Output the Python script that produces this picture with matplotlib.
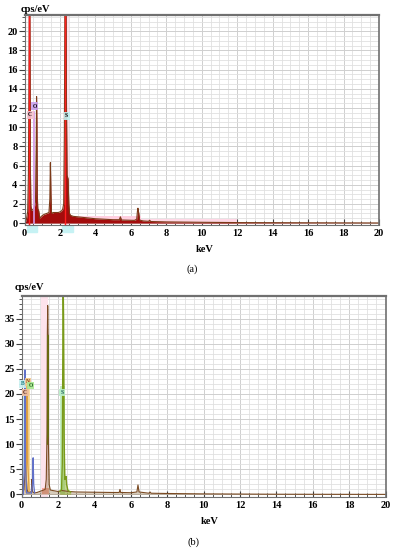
import numpy as np
import matplotlib.pyplot as plt
from matplotlib.ticker import MultipleLocator
from matplotlib.patches import Rectangle

plt.rcParams["font.family"] = ["Liberation Serif", "DejaVu Serif"]
plt.rcParams["font.weight"] = "bold"

# --- panel (a): single spectrum (keV, cps/eV)
a_energy = [0.00, 0.10, 0.18, 0.22, 0.25, 0.27, 0.29, 0.31, 0.33, 0.36, 0.40,
            0.46, 0.55, 0.62, 0.66, 0.68, 0.70, 0.72, 0.75, 0.80, 0.86, 0.95,
            1.10, 1.25, 1.38, 1.43, 1.46, 1.49, 1.52, 1.56, 1.62, 1.75, 1.90,
            2.05, 2.15, 2.21, 2.25, 2.28, 2.31, 2.34, 2.37, 2.40, 2.43, 2.46,
            2.50, 2.54, 2.60, 2.75, 3.0, 3.5, 4.0, 4.5, 5.0, 5.35, 5.41, 5.47,
            5.8, 6.2, 6.33, 6.37, 6.40, 6.44, 6.50, 6.7, 7.0, 7.06, 7.12, 7.6,
            8.0, 9.0, 10.0, 12.0, 14.0, 16.0, 18.0, 20.0]
a_cps = [0.0, 0.3, 1.2, 5.0, 14.0, 22.0, 25.0, 18.0, 6.0, 1.8, 1.3,
         1.4, 1.6, 2.2, 8.0, 13.2, 10.5, 3.0, 1.5, 1.3, 0.5, 0.7,
         0.9, 1.0, 1.1, 2.5, 6.3, 3.0, 1.2, 1.0, 1.1, 1.1, 1.1,
         1.2, 1.4, 2.0, 9.5, 24.0, 25.0, 24.0, 12.0, 5.0, 4.8, 4.6,
         2.0, 1.0, 0.8, 0.7, 0.65, 0.55, 0.45, 0.4, 0.35, 0.35, 0.65, 0.32,
         0.3, 0.28, 0.4, 1.2, 1.55, 1.1, 0.3, 0.22, 0.18, 0.3, 0.16, 0.14,
         0.12, 0.1, 0.08, 0.05, 0.04, 0.03, 0.02, 0.01]
a_marker_keV = [0.28, 2.31]
a_labels = ["C", "O", "S"]
a_label_keV = [0.32, 0.58, 2.38]
a_label_cps = [11.3, 12.2, 11.2]

# --- panel (b): overlaid traces
b_base_energy = [0.00, 0.08, 0.14, 0.20, 0.23, 0.25, 0.27, 0.30, 0.36, 0.45,
                 0.54, 0.57, 0.59, 0.62, 0.70, 0.85, 1.00, 1.15, 1.30, 1.36,
                 1.40, 1.42, 1.44, 1.46, 1.48, 1.52, 1.58, 1.70, 2.00, 2.15,
                 2.20, 2.60, 3.0, 4.0, 5.0, 5.37, 5.41, 5.45, 6.0, 6.34, 6.40,
                 6.46, 7.0, 7.06, 7.12, 8.0, 10.0, 14.0, 20.0]
b_base_cps = [0.0, 0.3, 1.0, 5.0, 20.5, 8.0, 3.0, 1.0, 0.5, 0.4,
              0.6, 3.0, 1.0, 0.5, 0.3, 0.4, 0.6, 0.8, 1.0, 3.0,
              12.0, 32.0, 37.6, 31.7, 10.0, 2.0, 0.9, 0.8, 0.6, 0.7,
              0.8, 0.6, 0.5, 0.45, 0.4, 0.4, 1.0, 0.4, 0.35, 0.5, 1.9,
              0.5, 0.25, 0.5, 0.25, 0.2, 0.12, 0.05, 0.02]
b_blue_energy = [0.10, 0.16, 0.19, 0.22, 0.28, 0.55, 0.61, 0.64, 0.67, 0.72]
b_blue_cps = [0.0, 6.0, 24.8, 6.0, 0.3, 0.3, 2.5, 7.3, 2.0, 0.3]
b_tan_energy = [0.24, 0.29, 0.32, 0.35, 0.42]
b_tan_cps = [0.5, 8.0, 22.0, 6.0, 0.5]
b_green_energy = [2.10, 2.20, 2.24, 2.27, 2.29, 2.31, 2.34, 2.38, 2.42, 2.45,
                  2.48, 2.55, 2.70]
b_green_cps = [0.6, 1.0, 6.0, 28.0, 42.0, 35.6, 12.0, 3.0, 3.3, 3.6,
               2.0, 0.8, 0.5]
b_labels = ["B", "N", "O", "C", "S"]
b_label_keV = [0.05, 0.36, 0.50, 0.20, 2.25]
b_label_cps = [22.0, 22.4, 21.7, 20.3, 20.3]

W, H = 395, 550
fig = plt.figure(figsize=(W / 100, H / 100), dpi=100)


def px_axes(x0, y0, x1, y1):
    return fig.add_axes([x0 / W, 1 - y1 / H, (x1 - x0) / W, (y1 - y0) / H])


def style(ax, ymax, ymin, ymajor, yminor):
    ax.set_xlim(0, 20)
    ax.set_ylim(ymin, ymax)
    ax.xaxis.set_major_locator(MultipleLocator(2))
    ax.xaxis.set_minor_locator(MultipleLocator(0.5))
    ax.yaxis.set_major_locator(MultipleLocator(ymajor))
    ax.yaxis.set_minor_locator(MultipleLocator(yminor))
    ax.grid(which="minor", color="#e0e0e0", lw=0.6)
    ax.grid(which="major", color="#cfcfcf", lw=0.7)
    ax.set_axisbelow(True)
    ax.tick_params(axis="x", which="both", direction="in", length=3,
                   labelsize=7.5, pad=3, color="#404040")
    ax.tick_params(axis="x", which="major", length=4)
    ax.tick_params(axis="y", which="major", direction="out", length=4,
                   labelsize=7.5, pad=1, color="#404040")
    ax.tick_params(axis="y", which="minor", direction="out", length=2,
                   color="#404040")
    for s in ax.spines.values():
        s.set_color("#707070")
    ax.spines["top"].set_linewidth(1.6)
    ax.spines["right"].set_linewidth(1.2)


def label_box(ax, x, y, text, fc, tc="black"):
    ax.text(x, y, text, fontsize=4, color=tc, ha="center", va="center",
            bbox=dict(boxstyle="square,pad=0.25", fc=fc, ec="none", alpha=0.9))


# panel (a)
ax = px_axes(24.5, 15, 379, 224.5)
style(ax, 21.7, -0.15, 2, 0.5)
ax.axvspan(0.20, 0.38, color="#ffd6e4", alpha=0.7, lw=0)
ax.axvspan(2.22, 2.52, color="#ffd6e4", alpha=0.7, lw=0)
ax.fill_between([2.5, 6.6], 0, 0.75, color="#ffd0e0", lw=0)
ax.fill_between([6.6, 12.0], 0, 0.4, color="#ffd8e6", lw=0)
ax.fill_between(a_energy, a_cps, color="#a30c0c", lw=0)
ax.plot(a_energy, a_cps, color="#7b3a18", lw=0.8)
for e in a_marker_keV:
    ax.axvline(e, color="#ff1f1f", lw=1.0)
ax.plot([0.52, 0.52], [0, 11.6], color="#d59ae8", lw=1.2)
for t, x, y, fc in zip(a_labels, a_label_keV, a_label_cps,
                       ["#f6c2cf", "#c9a2ee", "#bff0ee"]):
    label_box(ax, x, y, t, fc)
for x in [0.42, 2.42]:
    ax.add_patch(Rectangle((x - 0.3, -0.9), 0.6, 0.6, color="#c6f2f4",
                           clip_on=False, zorder=0))
fig.text(21 / W, 1 - 10 / H, "cps/eV", fontsize=7.5, ha="left", va="center")
fig.text(205 / W, 1 - 250 / H, "keV", fontsize=7.5, ha="center", va="center")
fig.text(192 / W, 1 - 269 / H, "(a)", fontsize=7.5, ha="center", va="center",
         fontweight="normal")

# panel (b)
bx = px_axes(21.5, 296, 385.5, 496.5)
style(bx, 39.5, -0.4, 5, 1)
bx.fill_between([0.0, 0.12], 0, 21, color="#c8f0f0", lw=0)
bx.fill_between([0.26, 0.48], 0, 23.2, color="#f6d78e", lw=0, alpha=0.85)
bx.axvspan(1.08, 1.46, color="#fde3ec", lw=0)
bx.fill_between([2.12, 2.38], 0, 21.5, color="#bfeec0", lw=0, alpha=0.9)
bx.fill_between([1.15, 1.50], 0, 1.2, color="#f08060", lw=0, alpha=0.6)
bx.fill_between(b_base_energy, b_base_cps, color="#8c6a3a", alpha=0.35, lw=0)
bx.plot(b_base_energy, b_base_cps, color="#7a4a22", lw=0.8)
bx.plot(b_tan_energy, b_tan_cps, color="#e0a040", lw=0.9)
bx.plot(b_blue_energy, b_blue_cps, color="#6070c8", lw=0.9)
bx.fill_between(b_green_energy, b_green_cps, color="#90b030", alpha=0.5, lw=0)
bx.plot(b_green_energy, b_green_cps, color="#7a9a1a", lw=1.0)
bx.plot([1.43, 1.45, 1.47], [10.0, 31.7, 11.5], color="#6a6a10", lw=0.9)
for t, x, y, fc, tc in zip(b_labels, b_label_keV, b_label_cps,
                           ["#c8f0f0", "#f2c890", "#a8e890", "#f0c0a0", "#b8eec8"],
                           ["#208080", "#804010", "#206020", "#502010", "#206060"]):
    label_box(bx, x, y, t, fc, tc)
fig.text(15 / W, 1 - 288 / H, "cps/eV", fontsize=7.5, ha="left", va="center")
fig.text(210 / W, 1 - 522 / H, "keV", fontsize=7.5, ha="center", va="center")
fig.text(194 / W, 1 - 542 / H, "(b)", fontsize=7.5, ha="center", va="center",
         fontweight="normal")

fig.savefig("out.png", dpi=100)
